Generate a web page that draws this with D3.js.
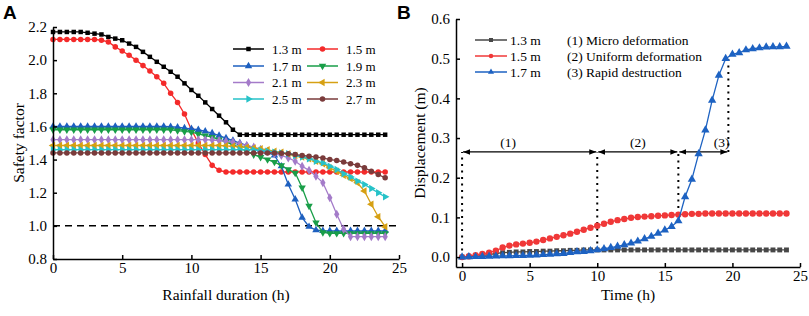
<!DOCTYPE html>
<html>
<head>
<meta charset="utf-8">
<script src="https://cdn.jsdelivr.net/npm/d3@7/dist/d3.min.js"></script>
<style>
    body { margin: 0; background: #fff; }
    svg text { font-family: "Liberation Serif", "Times New Roman", serif; fill: #000; }
    .panel-letter { font-family: "Liberation Sans", Arial, sans-serif; font-weight: bold; }
</style>
</head>
<body>
<div id="wrapper"></div>
<script>
// time grid shared by both panels (h)
const hours = [0, 0.5, 1, 1.5, 2, 2.5, 3, 3.5, 4, 4.5, 5, 5.5, 6, 6.5, 7, 7.5, 8, 8.5, 9, 9.5,
    10, 10.5, 11, 11.5, 12, 12.5, 13, 13.5, 14, 14.5, 15, 15.5, 16, 16.5, 17, 17.5, 18, 18.5, 19, 19.5,
    20, 20.5, 21, 21.5, 22, 22.5, 23, 23.5, 24]

// Panel A - safety factor for each water level
const sf13 = [2.17, 2.17, 2.17, 2.17, 2.17, 2.165, 2.16, 2.155, 2.14, 2.13, 2.12, 2.10, 2.08, 2.05, 2.02, 1.99,
    1.96, 1.93, 1.90, 1.86, 1.82, 1.785, 1.745, 1.705, 1.665, 1.625, 1.58, 1.55,
    1.55, 1.55, 1.55, 1.55, 1.55, 1.55, 1.55, 1.55, 1.55, 1.55, 1.55, 1.55, 1.55, 1.55, 1.55, 1.55, 1.55, 1.55, 1.55, 1.55, 1.55]
const sf15 = [2.125, 2.125, 2.125, 2.125, 2.125, 2.125, 2.125, 2.12, 2.11, 2.08, 2.055, 2.03, 2.00, 1.967, 1.935, 1.90,
    1.86, 1.80, 1.745, 1.675, 1.58, 1.50, 1.43, 1.365, 1.335, 1.325,
    1.325, 1.325, 1.325, 1.325, 1.325, 1.325, 1.325, 1.325, 1.325, 1.325, 1.325, 1.325, 1.325, 1.325, 1.325, 1.325, 1.325, 1.325, 1.325, 1.325, 1.325, 1.325, 1.325]
const sf17 = [1.60, 1.60, 1.60, 1.60, 1.60, 1.60, 1.60, 1.60, 1.60, 1.60, 1.60, 1.60, 1.60, 1.60, 1.60, 1.60, 1.60,
    1.598, 1.595, 1.59, 1.585, 1.58, 1.57, 1.56, 1.545, 1.53, 1.515, 1.50, 1.485, 1.47, 1.46, 1.445, 1.425,
    1.36, 1.25, 1.16, 1.05, 0.995, 0.975, 0.97, 0.97, 0.97, 0.97, 0.97, 0.97, 0.97, 0.97, 0.97, 0.97]
const sf19 = [1.58, 1.58, 1.58, 1.58, 1.58, 1.58, 1.58, 1.58, 1.58, 1.58, 1.58, 1.58, 1.58, 1.58, 1.58, 1.58, 1.58, 1.58,
    1.575, 1.57, 1.565, 1.555, 1.545, 1.535, 1.52, 1.505, 1.49, 1.47, 1.45, 1.43, 1.415, 1.40, 1.385, 1.365,
    1.34, 1.32, 1.23, 1.12, 1.02, 0.96, 0.955, 0.955, 0.955, 0.955, 0.955, 0.955, 0.955, 0.955, 0.955]
const sf21 = [1.52, 1.52, 1.52, 1.52, 1.52, 1.52, 1.52, 1.52, 1.52, 1.52, 1.52, 1.52, 1.52, 1.52, 1.52, 1.52, 1.52, 1.52,
    1.52, 1.52, 1.52, 1.52, 1.52, 1.518, 1.515, 1.51, 1.505, 1.495, 1.485, 1.475, 1.46, 1.45, 1.435, 1.425,
    1.41, 1.39, 1.36, 1.335, 1.30, 1.26, 1.17, 1.07, 0.98, 0.935, 0.935, 0.935, 0.935, 0.935, 0.935]
const sf23 = [1.485, 1.485, 1.485, 1.485, 1.485, 1.485, 1.485, 1.485, 1.485, 1.485, 1.485, 1.485, 1.485, 1.485, 1.485,
    1.485, 1.485, 1.485, 1.485, 1.485, 1.485, 1.485, 1.485, 1.485, 1.485, 1.483, 1.48, 1.478, 1.475, 1.47, 1.465,
    1.46, 1.45, 1.445, 1.435, 1.425, 1.415, 1.405, 1.39, 1.375, 1.35, 1.33, 1.305, 1.285, 1.26, 1.21, 1.13, 1.055, 0.995]
const sf25 = [1.46, 1.46, 1.46, 1.46, 1.46, 1.46, 1.46, 1.46, 1.46, 1.46, 1.46, 1.46, 1.46, 1.46, 1.46, 1.46, 1.46,
    1.46, 1.46, 1.46, 1.46, 1.46, 1.46, 1.46, 1.46, 1.46, 1.46, 1.46, 1.46, 1.458, 1.455, 1.45, 1.445, 1.44,
    1.435, 1.425, 1.415, 1.405, 1.39, 1.38, 1.36, 1.34, 1.315, 1.295, 1.27, 1.25, 1.225, 1.20, 1.175]
const sf27 = [1.44, 1.44, 1.44, 1.44, 1.44, 1.44, 1.44, 1.44, 1.44, 1.44, 1.44, 1.44, 1.44, 1.44, 1.44, 1.44, 1.44,
    1.44, 1.44, 1.44, 1.44, 1.44, 1.44, 1.44, 1.44, 1.44, 1.44, 1.44, 1.44, 1.44, 1.44, 1.44, 1.44, 1.438,
    1.435, 1.43, 1.425, 1.42, 1.415, 1.41, 1.40, 1.395, 1.385, 1.375, 1.365, 1.35, 1.33, 1.31, 1.29]
const criticalSF = 1.0

// Panel B - displacement (m)
const disp13 = [0, 0.001, 0.002, 0.004, 0.006, 0.009, 0.011, 0.012, 0.013, 0.013, 0.014, 0.014, 0.015, 0.015, 0.016,
    0.016, 0.017, 0.017, 0.018, 0.018, 0.018, 0.018, 0.018, 0.018, 0.018, 0.018, 0.018, 0.018, 0.018, 0.018,
    0.018, 0.018, 0.018, 0.018, 0.018, 0.018, 0.018, 0.018, 0.018, 0.018, 0.018, 0.018, 0.018, 0.018, 0.018,
    0.018, 0.018, 0.018, 0.018]
const disp15 = [0, 0.002, 0.005, 0.008, 0.011, 0.016, 0.024, 0.029, 0.032, 0.034, 0.036, 0.039, 0.043, 0.047, 0.051,
    0.055, 0.059, 0.064, 0.069, 0.074, 0.079, 0.084, 0.089, 0.093, 0.096, 0.099, 0.101, 0.102, 0.103, 0.104,
    0.105, 0.106, 0.107, 0.108, 0.109, 0.109, 0.11, 0.11, 0.11, 0.11, 0.11, 0.11, 0.11, 0.11, 0.11, 0.11,
    0.11, 0.11, 0.11]
const disp17 = [0, 0.0005, 0.001, 0.0015, 0.002, 0.0025, 0.003, 0.003, 0.0035, 0.004, 0.0045, 0.005, 0.006, 0.007,
    0.008, 0.009, 0.011, 0.013, 0.014, 0.016, 0.018, 0.021, 0.024, 0.027, 0.031, 0.035, 0.040, 0.046, 0.052,
    0.060, 0.068, 0.077, 0.091, 0.152, 0.196, 0.26, 0.32, 0.395, 0.458, 0.50, 0.511, 0.515, 0.522, 0.525,
    0.527, 0.529, 0.530, 0.530, 0.531]

// deformation stages in panel B
const stageBounds = [0, 10, 16, 19.7]
const stageLabels = ["(1)", "(2)", "(3)"]
const stageLabelAt = [3.4, 13, 19.2]
const stageArrowLevel = 0.265
const stageDotLow = [0, 0.018, 0.091, 0.265]
const stageDotHigh = [0.265, 0.265, 0.265, 0.5]
const stageNames = ["(1) Micro deformation", "(2) Uniform deformation", "(3) Rapid destruction"]

const ticksA_x = [0, 5, 10, 15, 20, 25]
const ticksA_y = [0.8, 1.0, 1.2, 1.4, 1.6, 1.8, 2.0, 2.2]
const ticksB_x = [0, 5, 10, 15, 20, 25]
const ticksB_y = [0.0, 0.1, 0.2, 0.3, 0.4, 0.5, 0.6]

function drawChart() {
    const width = 809
    const height = 316

    const svg = d3.select("#wrapper")
        .append("svg")
        .attr("width", width)
        .attr("height", height)

    // arrow head used by the stage spans
    svg.append("defs").append("marker")
        .attr("id", "arrowHead")
        .attr("viewBox", "0 0 10 10")
        .attr("refX", 10)
        .attr("refY", 5)
        .attr("markerWidth", 7)
        .attr("markerHeight", 7)
        .attr("markerUnits", "userSpaceOnUse")
        .attr("orient", "auto-start-reverse")
        .append("path")
        .attr("d", "M0,1 L10,5 L0,9 Z")
        .attr("fill", "#000")

    const markerShape = (type, size) => d3.symbol(type, size)()

    const plotSeries = (g, x, y, s) => {
        const line = d3.line()
            .x((d, i) => x(hours[i]))
            .y(d => y(d))
        g.append("path")
            .datum(s.values)
            .attr("fill", "none")
            .attr("stroke", s.color)
            .attr("stroke-width", 1.3)
            .attr("d", line)
        g.append("g")
            .selectAll("path")
            .data(s.values)
            .join("path")
            .attr("transform", (d, i) => `translate(${x(hours[i])},${y(d)}) rotate(${s.rot})`)
            .attr("d", markerShape(s.sym, s.size))
            .attr("fill", s.color)
    }

    const legendItem = (g, lx, ly, s, label, lineLen) => {
        g.append("line")
            .attr("x1", lx).attr("x2", lx + lineLen)
            .attr("y1", ly).attr("y2", ly)
            .attr("stroke", s.color)
            .attr("stroke-width", 1.5)
        g.append("path")
            .attr("transform", `translate(${lx + lineLen / 2},${ly}) rotate(${s.rot})`)
            .attr("d", markerShape(s.sym, s.size))
            .attr("fill", s.color)
        g.append("text")
            .attr("x", lx + lineLen + 8)
            .attr("y", ly + 4.5)
            .style("font-size", "13px")
            .text(label)
    }

    const styleAxis = (axisG) => {
        axisG.selectAll("path, line").attr("stroke", "#000").attr("stroke-width", 1.5)
        axisG.selectAll("text").style("font-size", "15px").style("font-family", "'Liberation Serif', 'Times New Roman', serif")
    }

    // ---------------- Panel A ----------------
    const xA = d3.scaleLinear().domain([0, 25]).range([53, 399])
    const yA = d3.scaleLinear().domain([0.8, 2.2]).range([259, 27])

    const seriesA = [
        { label: "1.3 m", values: sf13, color: "#000000", sym: d3.symbolSquare, rot: 0, size: 20 },
        { label: "1.5 m", values: sf15, color: "#f42a2a", sym: d3.symbolCircle, rot: 0, size: 24 },
        { label: "1.7 m", values: sf17, color: "#1d5fbf", sym: d3.symbolTriangle, rot: 0, size: 24 },
        { label: "1.9 m", values: sf19, color: "#199e48", sym: d3.symbolTriangle, rot: 180, size: 24 },
        { label: "2.1 m", values: sf21, color: "#a47bc9", sym: d3.symbolDiamond, rot: 0, size: 24 },
        { label: "2.3 m", values: sf23, color: "#d6a013", sym: d3.symbolTriangle, rot: -90, size: 24 },
        { label: "2.5 m", values: sf25, color: "#26c2c8", sym: d3.symbolTriangle, rot: 90, size: 24 },
        { label: "2.7 m", values: sf27, color: "#7a3b3b", sym: d3.symbolCircle, rot: 0, size: 24 },
    ]

    const gA = svg.append("g")

    // critical safety factor line
    gA.append("line")
        .attr("x1", xA(0)).attr("x2", xA(25))
        .attr("y1", yA(criticalSF)).attr("y2", yA(criticalSF))
        .attr("stroke", "#000")
        .attr("stroke-width", 1.5)
        .attr("stroke-dasharray", "7,5")

    seriesA.forEach(s => plotSeries(gA, xA, yA, s))

    const xAxisA = gA.append("g")
        .attr("transform", `translate(0,${yA(0.8)})`)
        .call(d3.axisBottom(xA).tickValues(ticksA_x).tickFormat(d3.format("d")).tickSizeInner(-4).tickSizeOuter(0).tickPadding(3))
    styleAxis(xAxisA)

    const yAxisA = gA.append("g")
        .attr("transform", `translate(${xA(0)},0)`)
        .call(d3.axisLeft(yA).tickValues(ticksA_y).tickFormat(d3.format(".1f")).tickSizeInner(-4).tickSizeOuter(0).tickPadding(6))
    styleAxis(yAxisA)

    gA.append("text")
        .attr("x", (xA(0) + xA(25)) / 2)
        .attr("y", 300)
        .attr("text-anchor", "middle")
        .style("font-size", "15.5px")
        .text("Rainfall duration (h)")

    gA.append("text")
        .attr("transform", `translate(24,${(yA(0.8) + yA(2.2)) / 2}) rotate(-90)`)
        .attr("text-anchor", "middle")
        .style("font-size", "15.5px")
        .text("Safety factor")

    const legA = gA.append("g")
    const legRows = [49, 66, 82.5, 99]
    const legCols = [233, 307]
    seriesA.forEach((s, i) => {
        legendItem(legA, legCols[i % 2], legRows[Math.floor(i / 2)], s, s.label, 31)
    })

    gA.append("text")
        .attr("class", "panel-letter")
        .attr("x", 3)
        .attr("y", 19)
        .style("font-size", "19px")
        .text("A")

    // ---------------- Panel B ----------------
    const xB = d3.scaleLinear().domain([-0.45, 25]).range([456, 800])
    const yB = d3.scaleLinear().domain([-0.025, 0.6]).range([267, 19])

    const seriesB = [
        { label: "1.3 m", values: disp13, color: "#474747", sym: d3.symbolSquare, rot: 0, size: 24 },
        { label: "1.5 m", values: disp15, color: "#f03838", sym: d3.symbolCircle, rot: 0, size: 32 },
        { label: "1.7 m", values: disp17, color: "#1d62c2", sym: d3.symbolTriangle, rot: 0, size: 30 },
    ]

    const gB = svg.append("g")

    // stage boundaries (dotted) and spans (double arrows)
    gB.selectAll(".stage-dots")
        .data(stageBounds)
        .join("line")
        .attr("class", "stage-dots")
        .attr("x1", d => xB(d)).attr("x2", d => xB(d))
        .attr("y1", (d, i) => yB(stageDotLow[i]))
        .attr("y2", (d, i) => yB(stageDotHigh[i]))
        .attr("stroke", "#000")
        .attr("stroke-width", 2)
        .attr("stroke-dasharray", "2,4.5")

    gB.selectAll(".stage-span")
        .data(stageLabels)
        .join("line")
        .attr("class", "stage-span")
        .attr("x1", (d, i) => xB(stageBounds[i]) + 1)
        .attr("x2", (d, i) => xB(stageBounds[i + 1]) - 1)
        .attr("y1", yB(stageArrowLevel))
        .attr("y2", yB(stageArrowLevel))
        .attr("stroke", "#000")
        .attr("stroke-width", 1.3)
        .attr("marker-start", "url(#arrowHead)")
        .attr("marker-end", "url(#arrowHead)")

    gB.selectAll(".stage-label")
        .data(stageLabels)
        .join("text")
        .attr("class", "stage-label")
        .attr("x", (d, i) => xB(stageLabelAt[i]))
        .attr("y", yB(stageArrowLevel) - 5)
        .attr("text-anchor", "middle")
        .style("font-size", "13.5px")
        .text(d => d)

    seriesB.forEach(s => plotSeries(gB, xB, yB, s))

    const xAxisB = gB.append("g")
        .attr("transform", `translate(0,${yB(-0.025)})`)
        .call(d3.axisBottom(xB).tickValues(ticksB_x).tickFormat(d3.format("d")).tickSizeInner(-4).tickSizeOuter(0).tickPadding(3))
    styleAxis(xAxisB)

    const yAxisB = gB.append("g")
        .attr("transform", `translate(${xB(-0.45)},0)`)
        .call(d3.axisLeft(yB).tickValues(ticksB_y).tickFormat(d3.format(".1f")).tickSizeInner(-4).tickSizeOuter(0).tickPadding(6))
    styleAxis(yAxisB)

    gB.append("text")
        .attr("x", (xB(-0.45) + xB(25)) / 2)
        .attr("y", 300)
        .attr("text-anchor", "middle")
        .style("font-size", "15.5px")
        .text("Time (h)")

    gB.append("text")
        .attr("transform", `translate(425,${(yB(-0.025) + yB(0.6)) / 2}) rotate(-90)`)
        .attr("text-anchor", "middle")
        .style("font-size", "15.5px")
        .text("Displacement (m)")

    const legB = gB.append("g")
    const legRowsB = [40, 56, 72]
    seriesB.forEach((s, i) => {
        const ly = legRowsB[i]
        legB.append("line")
            .attr("x1", 475).attr("x2", 507)
            .attr("y1", ly).attr("y2", ly)
            .attr("stroke", s.color)
            .attr("stroke-width", 1.5)
        legB.append("path")
            .attr("transform", `translate(491,${ly})`)
            .attr("d", markerShape(s.sym, 16))
            .attr("fill", s.color)
        legB.append("text")
            .attr("x", 510)
            .attr("y", ly + 4.5)
            .style("font-size", "13.5px")
            .text(s.label)
    })
    legB.selectAll(".stage-name")
        .data(stageNames)
        .join("text")
        .attr("class", "stage-name")
        .attr("x", 567)
        .attr("y", (d, i) => legRowsB[i] + 4.5)
        .style("font-size", "13.5px")
        .text(d => d)

    gB.append("text")
        .attr("class", "panel-letter")
        .attr("x", 397)
        .attr("y", 19)
        .style("font-size", "19px")
        .text("B")
}

drawChart()
</script>
</body>
</html>
